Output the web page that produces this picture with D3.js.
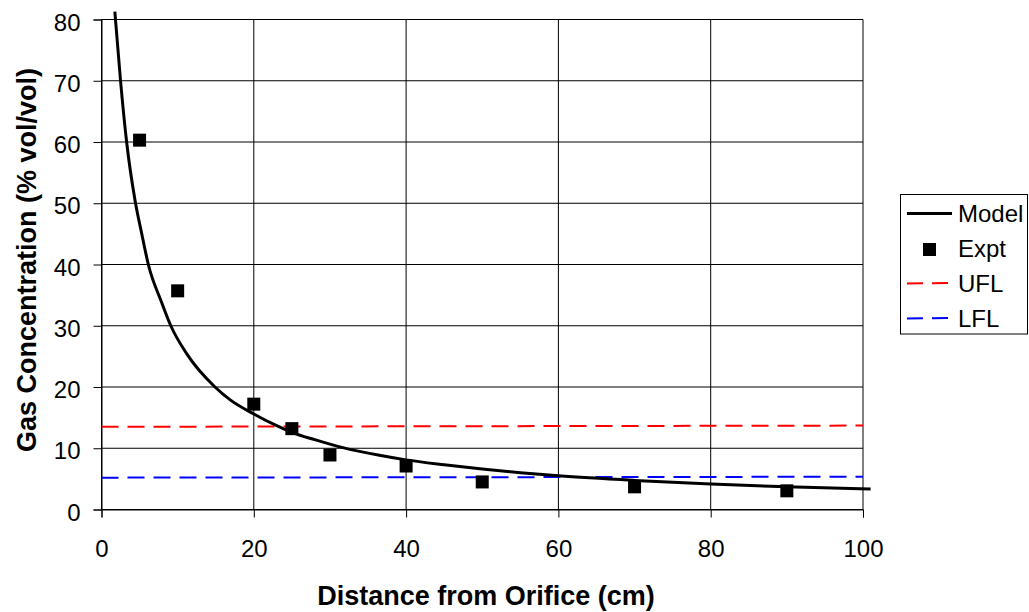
<!DOCTYPE html>
<html>
<head>
<meta charset="utf-8">
<script src="https://cdn.jsdelivr.net/npm/d3@7"></script>
<style>
  body { margin: 0; background: #fff; }
  svg { display: block; font-family: "Liberation Sans", Arial, sans-serif; }
</style>
</head>
<body>
<svg id="chart" width="1029" height="612"></svg>
<script>
// model curve
var modelX = [1.75, 2.5, 3.3, 4.4, 5.27, 6.15, 7.9, 9.1, 11.2, 14.9, 16.9, 20, 22.8, 25, 28, 31.7, 36.5, 40, 45, 50, 55, 60, 70, 80, 90, 101]
var modelY = [81.3, 70, 60, 50.5, 45.1, 40, 33.8, 30, 25.4, 20, 17.9, 15.6, 13.8, 12.6, 11.4, 10.1, 8.85, 8.1, 7.3, 6.6, 6.0, 5.5, 4.75, 4.16, 3.7, 3.35]

// experiment points
var exptX = [5, 10, 20, 25, 30, 40, 50, 70, 90]
var exptY = [60.3, 35.7, 17.2, 13.2, 8.9, 7.1, 4.5, 3.7, 3.05]

// flammability limits
var limitX = [0, 100]
var uflY = [13.5, 13.7]
var lflY = [5.2, 5.35]

var xTicks = [0, 20, 40, 60, 80, 100]
var yTicks = [0, 10, 20, 30, 40, 50, 60, 70, 80]

var svg = d3.select("#chart")

var x = d3.scaleLinear().domain([0, 100]).range([101.5, 863])
var y = d3.scaleLinear().domain([0, 80]).range([509.5, 19.5])

// grid
svg.append("g")
  .selectAll("line")
  .data(yTicks)
  .enter()
  .append("line")
    .attr("x1", x(0)).attr("x2", x(100))
    .attr("y1", function(d) { return y(d) })
    .attr("y2", function(d) { return y(d) })
    .style("stroke", "#000").style("stroke-width", 1)

svg.append("g")
  .selectAll("line")
  .data(xTicks)
  .enter()
  .append("line")
    .attr("y1", y(0)).attr("y2", y(80))
    .attr("x1", function(d) { return x(d) })
    .attr("x2", function(d) { return x(d) })
    .style("stroke", "#000").style("stroke-width", 1)

// axes
var xAxis = svg.append("g")
  .attr("transform", "translate(0," + y(0) + ")")
  .call(d3.axisBottom(x).tickValues(xTicks).tickSize(8).tickPadding(22))
var yAxis = svg.append("g")
  .attr("transform", "translate(" + x(0) + ",0)")
  .call(d3.axisLeft(y).tickValues(yTicks).tickSize(8).tickPadding(13))

svg.selectAll(".domain").style("stroke", "#000")
svg.selectAll(".tick line").style("stroke", "#000")
svg.selectAll(".tick text")
  .attr("font-size", 24)
  .attr("font-family", "Liberation Sans, Arial, sans-serif")
  .attr("fill", "#000")
yAxis.selectAll(".tick text").attr("dy", "0.44em")

// limit lines
var limitLine = d3.line()
  .x(function(d) { return x(d[0]) })
  .y(function(d) { return y(d[1]) })

svg.append("path")
  .attr("d", limitLine(d3.zip(limitX, uflY)))
  .style("fill", "none").style("stroke", "#ff0000")
  .style("stroke-width", 2).style("stroke-dasharray", "17,9")

svg.append("path")
  .attr("d", limitLine(d3.zip(limitX, lflY)))
  .style("fill", "none").style("stroke", "#0000ff")
  .style("stroke-width", 2).style("stroke-dasharray", "17,9")

// model
var modelLine = d3.line()
  .x(function(d) { return x(d[0]) })
  .y(function(d) { return y(d[1]) })
  .curve(d3.curveMonotoneX)

svg.append("path")
  .attr("d", modelLine(d3.zip(modelX, modelY)))
  .style("fill", "none").style("stroke", "#000").style("stroke-width", 3)

// expt markers
var m = 13
svg.append("g")
  .selectAll("rect")
  .data(d3.zip(exptX, exptY))
  .enter()
  .append("rect")
    .attr("x", function(d) { return x(d[0]) - m / 2 })
    .attr("y", function(d) { return y(d[1]) - m / 2 })
    .attr("width", m).attr("height", m)
    .style("fill", "#000")

// axis titles
svg.append("text")
  .attr("x", 486).attr("y", 605)
  .attr("text-anchor", "middle")
  .attr("font-size", 27).attr("font-weight", "bold")
  .text("Distance from Orifice (cm)")

svg.append("text")
  .attr("transform", "translate(36,260) rotate(-90)")
  .attr("text-anchor", "middle")
  .attr("font-size", 27).attr("font-weight", "bold")
  .text("Gas Concentration (% vol/vol)")

// legend
var legend = svg.append("g")
legend.append("rect")
  .attr("x", 900.5).attr("y", 194.5).attr("width", 127).attr("height", 139.5)
  .style("fill", "#fff").style("stroke", "#000").style("stroke-width", 1)

var legendItems = [
  {label: "Model", y: 213.5},
  {label: "Expt", y: 248.5},
  {label: "UFL", y: 283.5},
  {label: "LFL", y: 318.5}
]

legend.append("line")
  .attr("x1", 907).attr("x2", 952).attr("y1", 213.5).attr("y2", 213.5)
  .style("stroke", "#000").style("stroke-width", 3)
legend.append("rect")
  .attr("x", 923).attr("y", 243).attr("width", 13).attr("height", 13)
  .style("fill", "#000")
legend.append("line")
  .attr("x1", 907).attr("x2", 952).attr("y1", 283.5).attr("y2", 283)
  .style("stroke", "#ff0000").style("stroke-width", 2).style("stroke-dasharray", "16,9")
legend.append("line")
  .attr("x1", 907).attr("x2", 952).attr("y1", 318.5).attr("y2", 318)
  .style("stroke", "#0000ff").style("stroke-width", 2).style("stroke-dasharray", "16,9")

legend.selectAll("text")
  .data(legendItems)
  .enter()
  .append("text")
    .attr("x", 958)
    .attr("y", function(d) { return d.y + 8.3 })
    .attr("font-size", 24)
    .text(function(d) { return d.label })
</script>
</body>
</html>
